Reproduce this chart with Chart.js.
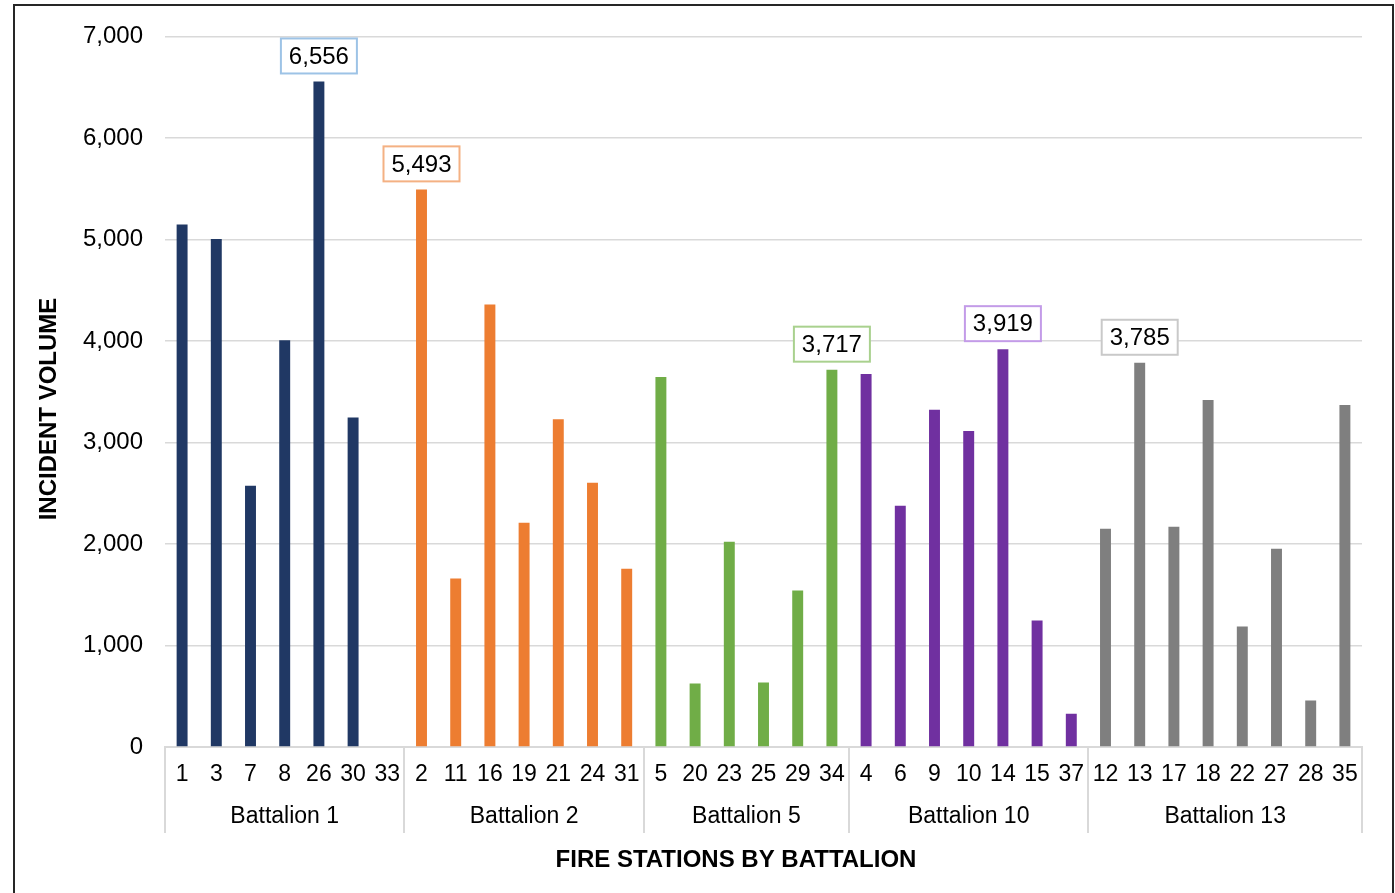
<!DOCTYPE html>
<html>
<head>
<meta charset="utf-8">
<title>Incident Volume by Fire Station</title>
<script src="https://cdn.jsdelivr.net/npm/chart.js@4.4.1/dist/chart.umd.min.js"></script>
<style>
  html, body { margin: 0; padding: 0; background: #fff; overflow: hidden; }
  #wrap { position: relative; width: 1395px; height: 893px; }
  #frame { position: absolute; left: 13px; top: 4px; width: 1381px; height: 900px; border: 2px solid #262626; box-sizing: border-box; pointer-events: none; }
  canvas { position: absolute; left: 0; top: 0; }
</style>
</head>
<body>
<div id="wrap">
  <canvas id="incidentChart" width="1395" height="893"></canvas>
  <div id="frame"></div>
</div>
<script>
// --- DATA ---
const battalionNames = ["Battalion 1", "Battalion 2", "Battalion 5", "Battalion 10", "Battalion 13"];

const stationsB1 = ["1", "3", "7", "8", "26", "30", "33"];
const stationsB2 = ["2", "11", "16", "19", "21", "24", "31"];
const stationsB5 = ["5", "20", "23", "25", "29", "34"];
const stationsB10 = ["4", "6", "9", "10", "14", "15", "37"];
const stationsB13 = ["12", "13", "17", "18", "22", "27", "28", "35"];

const volumesB1 = [5146, 5005, 2573, 4006, 6556, 3245, 0];
const volumesB2 = [5493, 1659, 4360, 2210, 3229, 2603, 1757];
const volumesB5 = [3645, 626, 2022, 636, 1541, 3717];
const volumesB10 = [3675, 2377, 3321, 3114, 3919, 1246, 328];
const volumesB13 = [2150, 3785, 2170, 3419, 1187, 1954, 459, 3370];

const yTicks = [0, 1000, 2000, 3000, 4000, 5000, 6000, 7000];

// bar colours and the lighter outline used for each group's peak label
const barColors = ["#203864", "#ED7D31", "#70AD47", "#7030A0", "#7F7F7F"];
const boxColors = ["#9DC3E6", "#F4B183", "#A9D18E", "#C39BE8", "#C9C9C9"];

// --- BUILD CHART INPUT ---
const stationGroups = [stationsB1, stationsB2, stationsB5, stationsB10, stationsB13];
const volumeGroups = [volumesB1, volumesB2, volumesB5, volumesB10, volumesB13];

const labels = stationGroups.flat();
const volumes = volumeGroups.flat();
const colors = [];
stationGroups.forEach((g, i) => g.forEach(() => colors.push(barColors[i])));

const mainFont = "Arial, 'Liberation Sans', sans-serif";

// draws the battalion row, separators, axis titles and the peak labels
const battalionAxisPlugin = {
  id: "battalionAxis",
  afterDraw(chart) {
    const ctx = chart.ctx;
    const xScale = chart.scales.x;
    const area = chart.chartArea;
    const half = (xScale.getPixelForValue(1) - xScale.getPixelForValue(0)) / 2;
    const bars = chart.getDatasetMeta(0).data;

    ctx.save();
    ctx.strokeStyle = "#D9D9D9";
    ctx.lineWidth = 2;
    ctx.fillStyle = "#000";
    ctx.textAlign = "center";
    ctx.textBaseline = "middle";

    let start = 0;
    stationGroups.forEach((group, g) => {
      const left = xScale.getPixelForValue(start) - half;
      const right = xScale.getPixelForValue(start + group.length - 1) + half;

      // group separators
      [left, right].forEach((px) => {
        ctx.beginPath();
        ctx.moveTo(Math.round(px), area.bottom);
        ctx.lineTo(Math.round(px), area.bottom + 86);
        ctx.stroke();
      });

      ctx.font = "23px " + mainFont;
      ctx.fillText(battalionNames[g], (left + right) / 2, area.bottom + 70);

      // peak label box for the group
      const vals = volumeGroups[g];
      const peak = vals.indexOf(Math.max(...vals));
      const bar = bars[start + peak];
      const bw = 76, bh = 35;
      const bx = bar.x - bw / 2;
      const by = bar.y - 8 - bh;
      ctx.save();
      ctx.fillStyle = "#fff";
      ctx.fillRect(bx, by, bw, bh);
      ctx.strokeStyle = boxColors[g];
      ctx.lineWidth = 2;
      ctx.strokeRect(bx, by, bw, bh);
      ctx.fillStyle = "#000";
      ctx.font = "24px " + mainFont;
      ctx.fillText(vals[peak].toLocaleString("en-US"), bar.x, by + bh / 2 + 1);
      ctx.restore();

      start += group.length;
    });

    // axis titles
    ctx.font = "bold 24px " + mainFont;
    ctx.fillText("FIRE STATIONS BY BATTALION", 736, 860);

    ctx.translate(49, 409);
    ctx.rotate(-Math.PI / 2);
    ctx.fillText("INCIDENT VOLUME", 0, 0);
    ctx.restore();
  },
};

new Chart(document.getElementById("incidentChart"), {
  type: "bar",
  data: {
    labels: labels,
    datasets: [
      {
        label: "Incident Volume",
        data: volumes,
        backgroundColor: colors,
        borderWidth: 0,
        barPercentage: 0.32,
        categoryPercentage: 1.0,
      },
    ],
  },
  options: {
    responsive: false,
    devicePixelRatio: 1,
    animation: false,
    layout: {
      padding: { left: 15, top: 35, right: 33, bottom: 0 },
    },
    plugins: {
      legend: { display: false },
      tooltip: { enabled: false },
    },
    scales: {
      x: {
        grid: { display: false, drawTicks: false },
        border: { display: true, color: "#D9D9D9", width: 2 },
        ticks: {
          color: "#000",
          font: { family: mainFont, size: 23 },
          padding: 14,
          autoSkip: false,
          maxRotation: 0,
        },
        afterFit: (scale) => {
          scale.height = 146; // room for the battalion row and title
        },
      },
      y: {
        min: 0,
        max: 7000,
        afterBuildTicks: (scale) => {
          scale.ticks = yTicks.map((v) => ({ value: v }));
        },
        grid: { color: "#D9D9D9", lineWidth: 1.5, drawTicks: false },
        border: { display: false },
        ticks: {
          color: "#000",
          font: { family: mainFont, size: 24 },
          padding: 22,
          callback: (value) => value.toLocaleString("en-US"),
        },
        afterFit: (scale) => {
          scale.width = 150;
        },
      },
    },
  },
  plugins: [battalionAxisPlugin],
});
</script>
</body>
</html>
